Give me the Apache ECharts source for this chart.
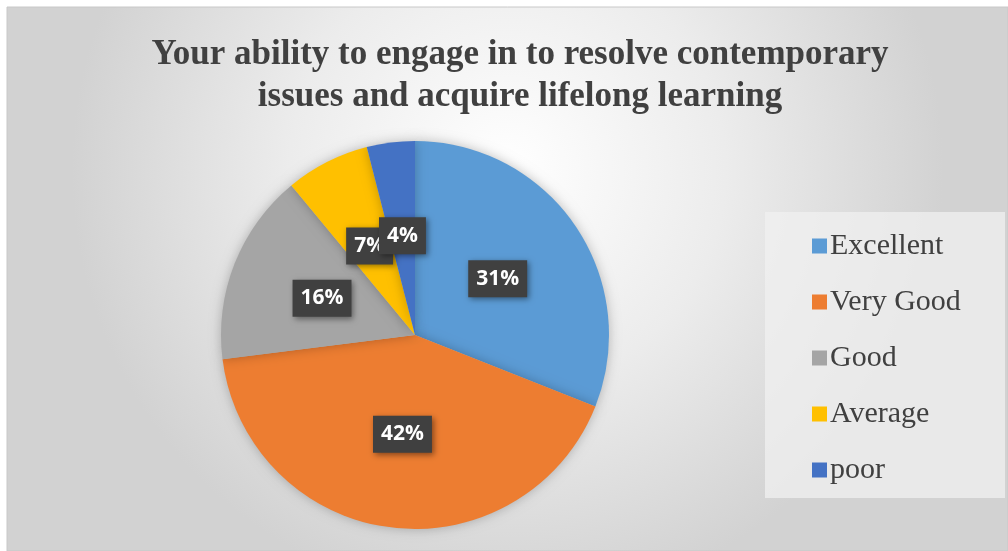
<!DOCTYPE html>
<html>
<head>
<meta charset="utf-8">
<script src="https://cdn.jsdelivr.net/npm/echarts@6/dist/echarts.min.js"></script>
<style>
  html, body { margin: 0; padding: 0; background: #ffffff; }
  #chart { width: 1008px; height: 551px; }
</style>
</head>
<body>
<div id="chart"></div>
<script>
// data
var categories = ['Excellent', 'Very Good', 'Good', 'Average', 'poor'];
var values = [31, 42, 16, 7, 4];
var colors = ['#5b9bd5', '#ed7d31', '#a5a5a5', '#ffc000', '#4472c4'];

var chart = echarts.init(document.getElementById('chart'));

var pieData = categories.map(function(name, i) {
    return { name: name, value: values[i], itemStyle: { color: colors[i] } };
});

var option = {
    animation: false,
    graphic: [{
        type: 'rect',
        z: -10,
        silent: true,
        shape: { x: 7, y: 7, width: 1001, height: 544 },
        style: {
            fill: {
                type: 'radial', x: 0.5, y: 0.3, r: 0.8,
                colorStops: [
                    { offset: 0, color: '#ffffff' },
                    { offset: 0.5, color: '#ececec' },
                    { offset: 1, color: '#d2d2d2' }
                ]
            },
            stroke: '#c8c8c8',
            lineWidth: 1
        }
    }, {
        type: 'rect',
        z: -5,
        silent: true,
        shape: { x: 765, y: 212, width: 240, height: 286 },
        style: { fill: 'rgba(240,240,240,0.75)' }
    }],
    title: {
        text: 'Your ability to engage in to resolve contemporary\nissues and acquire lifelong learning',
        left: 515,
        top: 29,
        textAlign: 'center',
        textStyle: {
            fontFamily: 'Liberation Serif',
            fontWeight: 'bold',
            fontSize: 35,
            lineHeight: 42,
            color: '#404040'
        }
    },
    legend: {
        orient: 'vertical',
        left: 807,
        top: 226,
        itemWidth: 15,
        itemHeight: 15,
        itemGap: 26,
        icon: 'rect',
        textStyle: {
            fontFamily: 'Liberation Serif',
            fontSize: 30,
            color: '#404040',
            padding: [0, 0, 0, -2]
        },
        data: categories
    },
    series: [{
        type: 'pie',
        center: [415, 335],
        radius: 194,
        startAngle: 90,
        clockwise: true,
        data: pieData,
        itemStyle: {
            shadowBlur: 12,
            shadowColor: 'rgba(0,0,0,0.25)'
        },
        labelLayout: { hideOverlap: false },
        label: {
            show: true,
            position: 'inside',
            formatter: '{d}%',
            fontFamily: 'Open Sans',
            fontWeight: 'bold',
            fontSize: 21,
            color: '#ffffff',
            backgroundColor: '#404040',
            padding: [9, 8, 7, 8],
            shadowBlur: 6,
            shadowColor: 'rgba(0,0,0,0.45)',
            shadowOffsetX: 2,
            shadowOffsetY: 2
        },
        labelLine: { show: false },
        emphasis: { disabled: true }
    }]
};

chart.setOption(option);
</script>
</body>
</html>
